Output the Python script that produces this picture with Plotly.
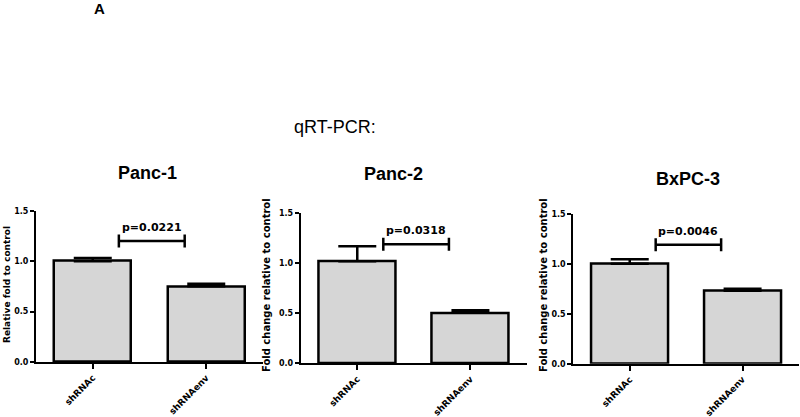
import plotly.graph_objects as go

# data
cell_lines = ["Panc-1", "Panc-2", "BxPC-3"]
groups = ["shRNAc", "shRNAenv"]
means = [[1.00, 0.75], [1.02, 0.505], [1.00, 0.73]]
errors = [[0.03, 0.025], [0.15, 0.025], [0.045, 0.02]]
p_values = ["p=0.0221", "p=0.0318", "p=0.0046"]
bracket_y = [1.20, 1.19, 1.19]
y_titles = ["Relative fold to control", "Fold change relative to control",
            "Fold change relative to control"]
y_ticks = [0.0, 0.5, 1.0, 1.5]

FONT = "Liberation Sans, Arial, sans-serif"
SMALL = "DejaVu Sans, Verdana, sans-serif"
FW, FH = 800, 417


def px(x):
    return x / FW


def py(y):
    return 1 - y / FH


# plot areas in pixels: (left, right, bottom, top)
boxes = [(36, 263, 362, 210.7), (300.7, 527, 363.3, 213.3), (573.3, 799, 363.7, 213.7)]
title_pos = [(147, 173), (393, 174), (688, 179)]
ytitle_x = [7, 266, 543]
ytitle_size = [9, 10, 10]

fig = go.Figure()
annotations = []
shapes = []

for i, name in enumerate(cell_lines):
    xa = "x" if i == 0 else f"x{i+1}"
    ya = "y" if i == 0 else f"y{i+1}"
    l, r, b, t = boxes[i]
    fig.add_trace(go.Bar(
        x=[0, 1], y=means[i], xaxis=xa, yaxis=ya, width=0.68,
        marker=dict(color="#d6d6d6", line=dict(color="black", width=2.5)),
        error_y=dict(type="data", array=errors[i], arrayminus=[0, 0], symmetric=False,
                     color="black", thickness=2.5, width=19),
        showlegend=False, hoverinfo="skip",
    ))

    axis_key = "xaxis" if i == 0 else f"xaxis{i+1}"
    yaxis_key = "yaxis" if i == 0 else f"yaxis{i+1}"
    fig.layout[axis_key] = dict(
        domain=[px(l), px(r)], anchor=ya, range=[-0.5, 1.5], tickvals=[0, 1],
        ticktext=groups, tickangle=-45, showgrid=False, zeroline=False,
        showline=True, linecolor="black", linewidth=2, ticks="outside",
        ticklen=5, tickwidth=2, tickcolor="black", automargin=False,
        tickfont=dict(family=SMALL, size=9, color="black", weight="bold"),
    )
    fig.layout[yaxis_key] = dict(
        domain=[py(b), py(t)], anchor=xa, range=[0, 1.5], tickvals=y_ticks,
        tickformat=".1f", showgrid=False, zeroline=False, showline=True,
        linecolor="black", linewidth=2, ticks="outside", ticklen=4,
        tickwidth=2, tickcolor="black", automargin=False,
        tickfont=dict(family=SMALL, size=8, color="black", weight="bold"),
    )

    # significance bracket
    x0, x1, yb = 0.23, 0.81, bracket_y[i]
    shapes.append(dict(type="line", xref=xa, yref=ya, x0=x0, x1=x1, y0=yb, y1=yb,
                       line=dict(color="black", width=2.5)))
    for xe in (x0, x1):
        shapes.append(dict(type="line", xref=xa, yref=ya, x0=xe, x1=xe,
                           y0=yb - 0.065, y1=yb + 0.065,
                           line=dict(color="black", width=2.5)))
    annotations.append(dict(text=p_values[i], xref=xa, yref=ya, x=(x0 + x1) / 2, y=yb,
                            yanchor="bottom", yshift=5, showarrow=False,
                            font=dict(family=SMALL, size=11, color="black", weight="bold")))

    tx, ty = title_pos[i]
    annotations.append(dict(text=name, xref="paper", yref="paper", x=px(tx), y=py(ty),
                            xanchor="center", yanchor="middle", showarrow=False,
                            font=dict(family=FONT, size=18, color="black", weight="bold")))
    annotations.append(dict(text=y_titles[i], xref="paper", yref="paper",
                            x=px(ytitle_x[i]), y=py(285), textangle=-90,
                            xanchor="center", yanchor="middle", showarrow=False,
                            font=dict(family=SMALL, size=ytitle_size[i], color="black",
                                      weight="bold")))

annotations.append(dict(text="qRT-PCR:", xref="paper", yref="paper", x=px(335), y=py(127),
                        xanchor="center", yanchor="middle", showarrow=False,
                        font=dict(family=FONT, size=18, color="black")))
annotations.append(dict(text="A", xref="paper", yref="paper", x=px(99), y=py(9),
                        xanchor="center", yanchor="middle", showarrow=False,
                        font=dict(family=FONT, size=15, color="black", weight="bold")))

fig.update_layout(
    width=FW, height=FH, margin=dict(l=0, r=0, t=0, b=0),
    paper_bgcolor="white", plot_bgcolor="white",
    annotations=annotations, shapes=shapes, bargap=0,
)

# drop the default page margin so the figure fills the window
fig.write_html("out.html", config={"displayModeBar": False},
               post_script="document.body.style.margin='0';")
